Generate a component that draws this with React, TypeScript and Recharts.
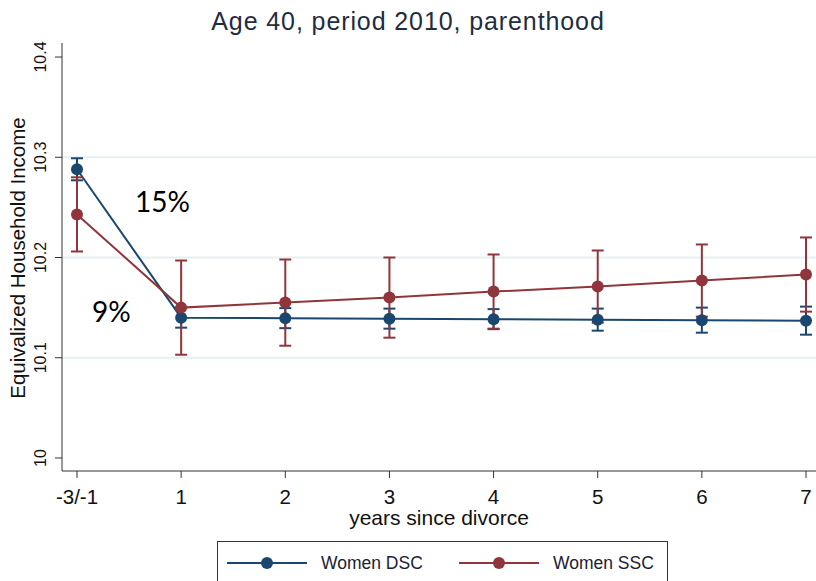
import { CartesianGrid, ErrorBar, Line, LineChart, XAxis, YAxis } from 'recharts';

// years since divorce (first point pools years -3 to -1)
const xLabels = ['-3/-1', '1', '2', '3', '4', '5', '6', '7'];
const xPos = [0, 1, 2, 3, 4, 5, 6, 7];

// log equivalized household income, women with different / same sex children
const dscMean = [10.288, 10.14, 10.1395, 10.139, 10.1385, 10.138, 10.1375, 10.137];
const dscCi = [0.011, 0.01, 0.01, 0.01, 0.01, 0.011, 0.0125, 0.014];
const sscMean = [10.243, 10.15, 10.155, 10.16, 10.166, 10.171, 10.177, 10.183];
const sscCi = [0.037, 0.047, 0.043, 0.04, 0.037, 0.036, 0.036, 0.037];

const yTicks = [10, 10.1, 10.2, 10.3, 10.4];
const gridValues = [10.1, 10.2, 10.3];

const BLUE = '#1a476f';
const RED = '#90353b';
const FONT = '"Liberation Sans", Arial, sans-serif';

const rows = xPos.map((x, i) => ({
	x,
	dsc: dscMean[i],
	dscErr: dscCi[i],
	ssc: sscMean[i],
	sscErr: sscCi[i],
}));

function YTick({ y, payload }) {
	return (
		<text
			x={41}
			y={y}
			textAnchor="middle"
			dominantBaseline="central"
			transform={`rotate(-90 41 ${y})`}
			fontSize={16}
			fontFamily={FONT}
			fill="#111"
		>
			{payload.value}
		</text>
	);
}

function LegendItem({ color, label, left }) {
	return (
		<div style={{ position: 'absolute', left, top: 0, height: 42, display: 'flex', alignItems: 'center' }}>
			<svg width={82} height={14}>
				<line x1={1} y1={7} x2={81} y2={7} stroke={color} strokeWidth={2} />
				<circle cx={41} cy={7} r={6} fill={color} />
			</svg>
			<span style={{ marginLeft: 13, fontSize: 17.5, color: '#1a2233' }}>{label}</span>
		</div>
	);
}

export default function App() {
	return (
		<div style={{ position: 'absolute', left: 0, top: 0, width: 816, height: 581, background: '#fff', fontFamily: FONT, overflow: 'hidden' }}>
			<LineChart width={816} height={581} data={rows} margin={{ top: 43, right: 0, bottom: 70, left: 0 }}>
				<CartesianGrid vertical={false} horizontalValues={gridValues} stroke="#e6eff1" strokeWidth={2} />
				<XAxis
					type="number"
					dataKey="x"
					domain={[-0.144, 7.096]}
					ticks={xPos}
					tickFormatter={(v) => xLabels[v]}
					allowDataOverflow
					height={40}
					stroke="#333"
					tickSize={7}
					tickMargin={11}
					tick={{ fontSize: 20.5, fill: '#111', fontFamily: FONT }}
				/>
				<YAxis
					type="number"
					domain={[9.987, 10.414]}
					ticks={yTicks}
					allowDataOverflow
					width={62}
					stroke="#333"
					tickSize={7}
					tick={YTick}
				/>
				<Line type="linear" dataKey="dsc" stroke={BLUE} strokeWidth={2} dot={{ r: 6, fill: BLUE, stroke: BLUE, strokeWidth: 0 }} isAnimationActive={false}>
					<ErrorBar dataKey="dscErr" direction="y" width={6} stroke={BLUE} strokeWidth={2} />
				</Line>
				<Line type="linear" dataKey="ssc" stroke={RED} strokeWidth={2} dot={{ r: 6, fill: RED, stroke: RED, strokeWidth: 0 }} isAnimationActive={false}>
					<ErrorBar dataKey="sscErr" direction="y" width={6} stroke={RED} strokeWidth={2} />
				</Line>
			</LineChart>

			<div style={{ position: 'absolute', left: 0, width: 816, top: 7, textAlign: 'center', fontSize: 25, letterSpacing: 0.9, color: '#1e2d40' }}>
				Age 40, period 2010, parenthood
			</div>
			<div style={{ position: 'absolute', left: 62, width: 754, top: 506, textAlign: 'center', fontSize: 21, color: '#111' }}>
				years since divorce
			</div>
			<div
				style={{
					position: 'absolute',
					left: 18,
					top: 258,
					transform: 'translate(-50%, -50%) rotate(-90deg)',
					whiteSpace: 'nowrap',
					fontSize: 20.5,
					color: '#111',
				}}
			>
				Equivalized Household Income
			</div>
			<div style={{ position: 'absolute', left: 135, top: 184, fontSize: 28, fontFamily: 'Lato, sans-serif', color: '#000' }}>15%</div>
			<div style={{ position: 'absolute', left: 92, top: 294, fontSize: 28, fontFamily: 'Lato, sans-serif', color: '#000' }}>9%</div>

			<div style={{ position: 'absolute', left: 217, top: 541, width: 451, height: 50, border: '1px solid #333', boxSizing: 'border-box' }}>
				<LegendItem color={BLUE} label="Women DSC" left={8} />
				<LegendItem color={RED} label="Women SSC" left={240} />
			</div>
		</div>
	);
}
